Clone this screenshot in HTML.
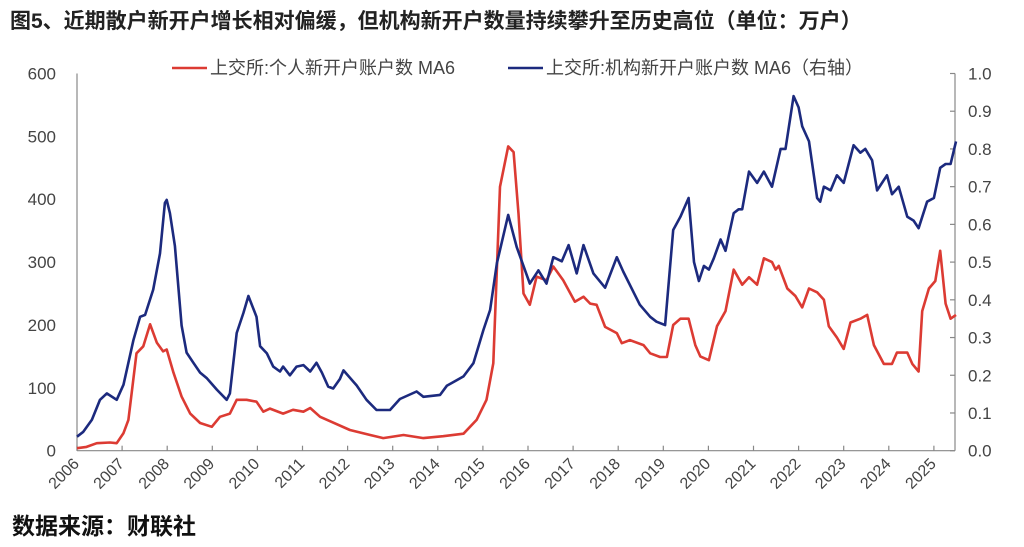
<!DOCTYPE html>
<html><head><meta charset="utf-8">
<style>
body{margin:0;background:#fff;width:1024px;height:547px;overflow:hidden;font-family:"Liberation Sans","Noto Sans CJK SC",sans-serif;}
#title{position:absolute;left:10px;top:5px;font-size:21px;font-weight:bold;color:#222;white-space:nowrap;}
#source{position:absolute;left:12px;top:507px;font-size:23px;font-weight:bold;color:#111;}
svg{position:absolute;left:0;top:0;}
</style></head><body>
<div id="title">图5、近期散户新开户增长相对偏缓，但机构新开户数量持续攀升至历史高位（单位：万户）</div>
<div id="source">数据来源：财联社</div>
<svg id="chart" width="1024" height="547"></svg>
<script>
const redYears=[2006.0,2006.21,2006.44,2006.73,2006.88,2007.03,2007.14,2007.32,2007.47,2007.62,2007.77,2007.91,2007.99,2008.14,2008.32,2008.51,2008.73,2008.99,2009.17,2009.39,2009.54,2009.76,2009.98,2010.13,2010.28,2010.57,2010.79,2011.02,2011.17,2011.39,2011.61,2012.05,2012.5,2012.79,2013.24,2013.68,2014.12,2014.57,2014.86,2015.08,2015.23,2015.38,2015.56,2015.68,2015.79,2015.9,2016.04,2016.19,2016.41,2016.56,2016.78,2017.04,2017.23,2017.38,2017.52,2017.71,2017.97,2018.08,2018.26,2018.56,2018.71,2018.93,2019.08,2019.22,2019.38,2019.56,2019.71,2019.82,2020.01,2020.19,2020.38,2020.56,2020.75,2020.9,2021.08,2021.23,2021.41,2021.49,2021.56,2021.75,2021.93,2022.08,2022.23,2022.41,2022.56,2022.67,2022.85,2023.0,2023.15,2023.37,2023.52,2023.67,2023.89,2024.07,2024.18,2024.41,2024.52,2024.66,2024.74,2024.89,2025.03,2025.14,2025.26,2025.37,2025.49];
const redValues=[4,6,12,13,12,28,49,155,166,201,172,158,161,124,86,59,44,38,54,59,81,81,78,62,67,59,65,62,68,54,47,33,25,20,25,20,23,27,49,81,139,420,484,475,377,250,232,277,271,293,271,237,245,234,232,197,187,171,176,168,155,149,149,200,210,210,168,150,144,198,222,288,264,276,264,306,300,288,294,258,246,228,258,252,240,198,180,162,204,210,216,168,138,138,156,156,138,126,222,258,270,318,234,210,216];
const blueYears=[2006.0,2006.14,2006.33,2006.51,2006.66,2006.88,2007.03,2007.25,2007.40,2007.51,2007.69,2007.84,2007.95,2007.99,2008.06,2008.17,2008.32,2008.43,2008.58,2008.73,2008.88,2009.10,2009.32,2009.39,2009.54,2009.69,2009.80,2009.98,2010.06,2010.21,2010.35,2010.50,2010.57,2010.72,2010.87,2011.02,2011.17,2011.31,2011.43,2011.57,2011.68,2011.83,2011.91,2012.2,2012.42,2012.64,2012.94,2013.16,2013.53,2013.68,2014.05,2014.2,2014.57,2014.79,2015.01,2015.16,2015.31,2015.56,2015.75,2016.04,2016.23,2016.41,2016.56,2016.75,2016.9,2017.08,2017.23,2017.45,2017.71,2017.97,2018.11,2018.48,2018.71,2018.85,2019.04,2019.22,2019.38,2019.56,2019.68,2019.79,2019.90,2020.01,2020.12,2020.27,2020.38,2020.56,2020.67,2020.75,2020.9,2021.08,2021.23,2021.41,2021.6,2021.71,2021.89,2022.0,2022.08,2022.23,2022.41,2022.48,2022.56,2022.71,2022.85,2023.0,2023.22,2023.37,2023.48,2023.63,2023.74,2023.96,2024.07,2024.22,2024.41,2024.55,2024.66,2024.85,2025.0,2025.14,2025.26,2025.37,2025.49];
const blueValues=[.037,.05,.082,.135,.152,.135,.175,.293,.355,.36,.427,.523,.657,.665,.63,.543,.332,.26,.233,.207,.192,.162,.135,.152,.312,.365,.41,.355,.277,.258,.223,.21,.223,.2,.223,.227,.21,.233,.207,.17,.165,.19,.213,.173,.135,.108,.108,.137,.157,.143,.148,.172,.197,.232,.32,.373,.497,.625,.54,.443,.478,.443,.513,.502,.545,.47,.545,.47,.432,.513,.475,.387,.355,.342,.333,.585,.62,.67,.50,.45,.49,.48,.51,.56,.53,.63,.64,.64,.74,.71,.74,.70,.80,.80,.94,.91,.86,.82,.67,.66,.70,.69,.73,.71,.81,.79,.80,.77,.69,.73,.68,.70,.62,.61,.59,.66,.67,.75,.76,.76,.82];
const xTickLabels=[2006,2007,2008,2009,2010,2011,2012,2013,2014,2015,2016,2017,2018,2019,2020,2021,2022,2023,2024,2025];
const leftTickLabels=[0,100,200,300,400,500,600];
const rightTickLabels=["0.0","0.1","0.2","0.3","0.4","0.5","0.6","0.7","0.8","0.9","1.0"];

const NS="http://www.w3.org/2000/svg";
const svg=document.getElementById('chart');
const X0=77,YW=45.1,Y0=450.7,YT=73.5,RX=955;
const x=yr=>X0+(yr-2006)*YW;
const yL=v=>Y0-(v/600)*(Y0-YT);
const yR=v=>Y0-v*(Y0-YT);
function mk(tag,attrs){const e=document.createElementNS(NS,tag);for(const k in attrs)e.setAttribute(k,attrs[k]);svg.appendChild(e);return e;}

let ax=mk('line',{x1:X0,y1:YT,x2:X0,y2:Y0,stroke:'#888','stroke-width':1.2});


ax=mk('line',{x1:RX,y1:YT,x2:RX,y2:Y0,stroke:'#888','stroke-width':1.2});


ax=mk('line',{x1:X0,y1:Y0,x2:RX,y2:Y0,stroke:'#888','stroke-width':1.2});



leftTickLabels.forEach(v=>{
  const t=mk('text',{x:56,y:yL(v)+6,'text-anchor':'end','font-size':17,fill:'#444'});
  t.textContent=v;
  
  
});
rightTickLabels.forEach(s=>{
  const v=parseFloat(s);
  const tk=mk('line',{x1:RX-5,y1:yR(v),x2:RX,y2:yR(v),stroke:'#888','stroke-width':1.2});
  
  
  const t=mk('text',{x:968,y:yR(v)+6,'font-size':17,fill:'#444'});
  t.textContent=s;
  
  
});
xTickLabels.forEach(yr=>{
  const px=x(yr);
  const tk=mk('line',{x1:px,y1:Y0-5,x2:px,y2:Y0,stroke:'#888','stroke-width':1.2});
  
  
  const t=mk('text',{x:px+3,y:Y0+14,'text-anchor':'end','font-size':16,fill:'#444',transform:`rotate(-45 ${px+3} ${Y0+14})`});
  t.textContent=yr;
  
  
});

let d=redYears.map((yr,i)=>(i?'L':'M')+x(yr).toFixed(1)+' '+yL(redValues[i]).toFixed(1)).join('');
const rp=mk('path',{d:d,fill:'none',stroke:'#dc3b33','stroke-width':2.6,'stroke-linejoin':'round'});


d=blueYears.map((yr,i)=>(i?'L':'M')+x(yr).toFixed(1)+' '+yR(blueValues[i]).toFixed(1)).join('');
const bp=mk('path',{d:d,fill:'none',stroke:'#1c2a7e','stroke-width':2.6,'stroke-linejoin':'round'});



let l=mk('line',{x1:172,y1:68,x2:207,y2:68,stroke:'#dc3b33','stroke-width':2.6});


let lt=mk('text',{x:210,y:74,'font-size':18,fill:'#444'});
lt.textContent='上交所:个人新开户账户数 MA6';


l=mk('line',{x1:508,y1:68,x2:543,y2:68,stroke:'#1c2a7e','stroke-width':2.6});


lt=mk('text',{x:546,y:74,'font-size':18,fill:'#444'});
lt.textContent='上交所:机构新开户账户数 MA6（右轴）';


</script>
</body></html>
